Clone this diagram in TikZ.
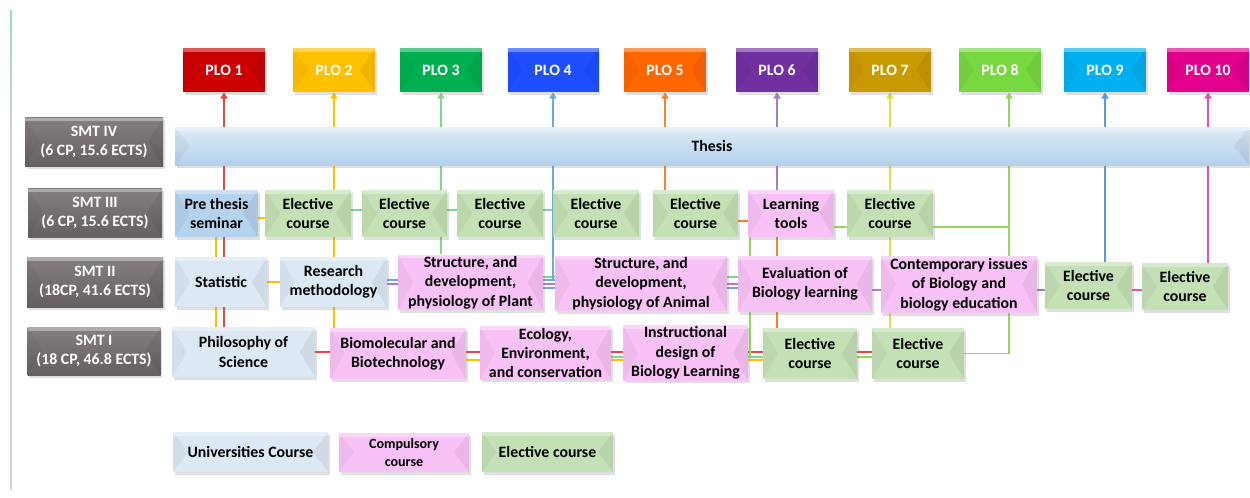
\documentclass[tikz,border=0pt]{standalone}
\usepackage{fontspec}
\setmainfont{Carlito}
\usetikzlibrary{arrows.meta, positioning, shadows, backgrounds}

% outcome boxes
\definecolor{ploA}{HTML}{CC0000}
\definecolor{ploB}{HTML}{FFC000}
\definecolor{ploC}{HTML}{00B050}
\definecolor{ploD}{HTML}{1F4EFF}
\definecolor{ploE}{HTML}{FF6600}
\definecolor{ploF}{HTML}{7030A0}
\definecolor{ploG}{HTML}{C99A00}
\definecolor{ploH}{HTML}{78D840}
\definecolor{ploI}{HTML}{00B0F0}
\definecolor{ploJ}{HTML}{E2008C}
% links
\definecolor{lA}{HTML}{E64646}
\definecolor{lB}{HTML}{FFC000}
\definecolor{lC}{HTML}{7FD890}
\definecolor{lD}{HTML}{6FA8DC}
\definecolor{lE}{HTML}{F58231}
\definecolor{lF}{HTML}{A57CC8}
\definecolor{lG}{HTML}{D9E048}
\definecolor{lH}{HTML}{92D85A}
\definecolor{lI}{HTML}{5B9BD5}
\definecolor{lJ}{HTML}{E94DB5}
% course kinds
\definecolor{unicol}{HTML}{DCE8F4}
\definecolor{precol}{HTML}{B5D2EE}
\definecolor{compcol}{HTML}{F8C2F6}
\definecolor{eleccol}{HTML}{C4E0B5}
\definecolor{smttop}{HTML}{857F7F}
\definecolor{smtbot}{HTML}{655F5F}
\definecolor{thtop}{HTML}{DDECF8}
\definecolor{thbot}{HTML}{B4D0EA}
\definecolor{rulecol}{HTML}{D4D4D4}
\definecolor{ruletop}{HTML}{9ED9CC}

\begin{document}
\begin{tikzpicture}[
    x=0.2mm, y=-0.2mm,
    every node/.style={font=\fontsize{9}{11}\selectfont\bfseries, align=center, inner sep=1pt},
    sz/.style 2 args={minimum width=#1*0.2mm, minimum height=#2*0.2mm},
    bevel/.style={path picture={
        \fill[black, opacity=.04] (path picture bounding box.north west) -- ([xshift=3mm]path picture bounding box.west) -- (path picture bounding box.south west) -- cycle;
        \fill[black, opacity=.06] (path picture bounding box.north east) -- ([xshift=-3mm]path picture bounding box.east) -- (path picture bounding box.south east) -- cycle;
        \fill[white, opacity=.35] (path picture bounding box.north west) rectangle ([yshift=-0.7mm]path picture bounding box.north east);
    }},
    box/.style={rectangle, bevel, drop shadow={shadow xshift=0.3mm, shadow yshift=-0.5mm, opacity=.25}},
    plo/.style={box, fill=#1, text=white, sz={82}{44}},
    smt/.style={box, top color=smttop, bottom color=smtbot, text=white},
    uni/.style={box, fill=unicol},
    comp/.style={box, fill=compcol},
    elec/.style={box, fill=eleccol},
    link/.style={line width=0.65pt},
    arr/.style={link, -{Triangle[width=4pt, length=3.5pt]}}
]
\useasboundingbox (0,0) rectangle (1250,497);

% page rule on the left
\shade[top color=ruletop, bottom color=rulecol] (10,10) rectangle (12,130);
\fill[rulecol] (10,130) rectangle (12,490);

% outcomes
\node[plo=ploA] (plo1) at (224,70) {PLO 1};
\node[plo=ploB] (plo2) at (334,70) {PLO 2};
\node[plo=ploC] (plo3) at (441,70) {PLO 3};
\node[plo=ploD, sz={91}{44}] (plo4) at (553,70) {PLO 4};
\node[plo=ploE] (plo5) at (665,70) {PLO 5};
\node[plo=ploF] (plo6) at (777,70) {PLO 6};
\node[plo=ploG] (plo7) at (890,70) {PLO 7};
\node[plo=ploH] (plo8) at (1000,70) {PLO 8};
\node[plo=ploI] (plo9) at (1105,70) {PLO 9};
\node[plo=ploJ] (plo10) at (1208,70) {PLO 10};
\coordinate (p8) at ([xshift=1.8mm]plo8.south);

% semesters
\node[smt, sz={138}{49}] (smt4) at (94,142) {SMT IV\\(6 CP, 15.6 ECTS)};
\node[smt, sz={134}{49}] (smt3) at (95,213) {SMT III\\(6 CP, 15.6 ECTS)};
\node[smt, sz={136}{50}] (smt2) at (95,282) {SMT II\\(18CP, 41.6 ECTS)};
\node[smt, sz={133}{48}] (smt1) at (94,351) {SMT I\\(18 CP, 46.8 ECTS)};

% smt iv
\node[box, top color=thtop, bottom color=thbot, sz={1074}{38}] (thesis) at (712,146) {Thesis};

% smt iii
\node[box, fill=precol, sz={83}{47}] (pre) at (216.5,213.5) {Pre thesis\\seminar};
\node[elec, sz={86}{47}] (e31) at (308,213.5) {Elective\\course};
\node[elec, sz={85}{47}] (e32) at (404.5,213.5) {Elective\\course};
\node[elec, sz={86}{47}] (e33) at (500,213.5) {Elective\\course};
\node[elec, sz={86}{47}] (e34) at (596,213.5) {Elective\\course};
\node[elec, sz={85}{47}] (e35) at (695.5,213.5) {Elective\\course};
\node[comp, sz={86}{47}] (tools) at (791,213.5) {Learning\\tools};
\node[elec, sz={86}{47}] (e36) at (890,213.5) {Elective\\course};

% smt ii
\node[uni, sz={92}{50}] (stat) at (221,282) {Statistic};
\node[uni, sz={107}{50}] (resm) at (333.5,282) {Research\\methodology};
\node[comp, sz={145}{53}] (plant) at (470.5,282.5) {Structure, and\\development,\\physiology of Plant};
\node[comp, sz={172}{55}] (animal) at (641,283.5) {Structure, and\\development,\\physiology of Animal};
\node[comp, sz={134}{56}] (eval) at (805,284) {Evaluation of\\Biology learning};
\node[comp, sz={156}{57}] (contemp) at (959,284.5) {Contemporary issues\\of Biology and\\biology education};
\node[elec, sz={87}{47}] (e21) at (1088.5,285.5) {Elective\\course};
\node[elec, sz={86}{47}] (e22) at (1185,286.5) {Elective\\course};

% smt i
\node[uni, sz={143}{50}] (phil) at (243.5,352) {Philosophy of\\Science};
\node[comp, sz={136}{51}] (biomol) at (398,353.5) {Biomolecular and\\Biotechnology};
\node[comp, sz={131}{52}] (ecol) at (545.5,353) {Ecology,\\Environment,\\and conservation};
\node[comp, sz={125}{52}] (instr) at (685.5,353) {Instructional\\design of\\Biology Learning};
\node[elec, sz={94}{51}] (e11) at (810,353.5) {Elective\\course};
\node[elec, sz={92}{51}] (e12) at (918,353.5) {Elective\\course};

% legend
\node[uni, sz={155}{40}] (lguni) at (250.5,452) {Universities Course};
\node[comp, sz={130}{39}, font=\fontsize{8}{10}\selectfont\bfseries] (lgcomp) at (404,452.5) {Compulsory\\course};
\node[elec, sz={131}{40}] (lgelec) at (547.5,452) {Elective course};

% rails
\coordinate (r3g) at (0,210);
\coordinate (r3y) at (0,218);
\coordinate (r3o) at (0,221);
\coordinate (r3l) at (0,227);
\coordinate (r2g) at (0,277);
\coordinate (r2b) at (0,280);
\coordinate (r2p) at (0,284);
\coordinate (r2c) at (0,288);
\coordinate (r2m) at (0,290);
\coordinate (r1g) at (0,357);
\coordinate (r1y) at (0,360);
\coordinate (c2b) at (216,0);
\coordinate (cg) at (750,0);

\begin{scope}[on background layer]
% up to the outcomes
\foreach \p/\c in {plo1/lA, plo2/lB, plo3/lC, plo4/lD, plo5/lE, plo6/lF, plo7/lG, p8/lH, plo9/lI, plo10/lJ}
    \draw[arr, \c] (thesis.north -| \p) -- (\p |- plo1.south);

% plo 1
\draw[link, lA] (thesis.south -| plo1) -- (phil.north -| plo1);
\draw[link, lA] (phil.east) -- (phil.east -| e12.west);
% plo 2
\draw[link, lB] (thesis.south -| plo2) -- (biomol.north -| plo2);
\draw[link, lB] (pre.south -| c2b) -- (phil.north -| c2b);
\draw[link, lB] (r3y -| pre.east) -- (r3y -| e31.west);
\draw[link, lB] (stat.east) -- (resm.west);
\draw[link, lB] (r1y -| biomol.east) -- (r1y -| e11.west);
% plo 3
\draw[link, lC] (thesis.south -| plo3) -- (plant.north -| plo3);
\draw[link, lC] (r3g -| e31.east) -- (r3g -| e34.west);
\draw[link, lC] (r2g -| plant.east) -- (r2g -| eval.west);
\draw[link, lC] (r1g -| ecol.east) -- (r1g -| e11.west);
% plo 4
\draw[link, lD] (thesis.south -| plo4) -- (r2b -| plo4);
\draw[link, lD] (r2b -| resm.east) -- (r2b -| animal.west);
\draw[link, lD] (r2c -| plant.east) -- (r2c -| eval.west);
% plo 5
\draw[link, lE] (thesis.south -| plo5) -- (e35.north -| plo5);
\draw[link, lE] (r3o -| e35.east) -- (r3o -| tools.west);
\draw[link, lE] (tools.south -| plo6) -- (e11.north -| plo6);
% plo 6
\draw[link, lF] (thesis.south -| plo6) -- (tools.north -| plo6);
\draw[link, lF] (r2p -| resm.east) -- (r2p -| eval.west);
\draw[link, lF] (r2m -| eval.east) -- (r2m -| e21.west);
% plo 7
\draw[link, lG] (thesis.south -| plo7) -- (e12.north -| plo7);
% plo 8
\draw[link, lH] (thesis.south -| p8) |- (e12.east);
\draw[link, lH] (r3l -| tools.east) -- (r3l -| p8);
\draw[link, lH] (tools.south -| cg) -- (r1g -| cg);
\draw[link, lH] (r1g -| e11.east) -- (r1g -| e12.west);
% plo 9
\draw[link, lI] (thesis.south -| plo9) -- (e21.north -| plo9);
% plo 10
\draw[link, lJ] (thesis.south -| plo10) -- (e22.north -| plo10);
\draw[link, lJ] (r2m -| e21.east) -- (r2m -| e22.west);
\end{scope}

\end{tikzpicture}
\end{document}
